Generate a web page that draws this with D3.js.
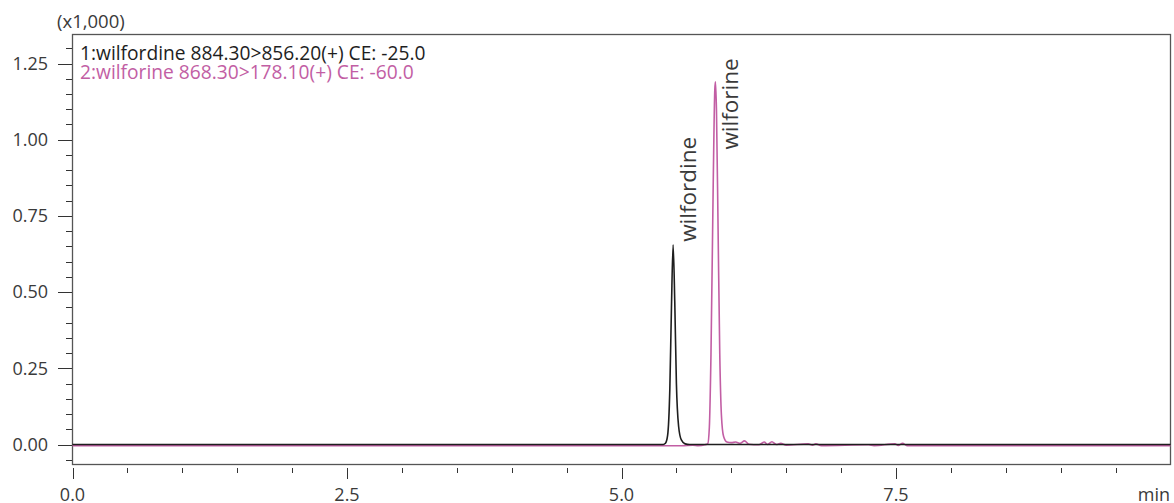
<!DOCTYPE html>
<html>
<head>
<meta charset="utf-8">
<script src="https://cdn.jsdelivr.net/npm/d3@7"></script>
<style>
  body { margin: 0; background: #fff; }
  text { font-family: "Open Sans", "Noto Sans", sans-serif; fill: #3a3a3a; }
</style>
</head>
<body>
<div id="chart"></div>
<script>
// retention time (min) / intensity (x1,000)
var wilfordineTime  = [0, 2.5, 5.0, 5.38, 5.40, 5.42, 5.44, 5.455, 5.47, 5.485, 5.50, 5.52, 5.545, 5.58, 5.62, 7.5, 10];
var wilfordineValue = [0, 0,   0,   0,    0.004, 0.03, 0.18, 0.45, 0.655, 0.47, 0.20, 0.06, 0.015, 0.002, 0, 0, 0];

var wilforineTime  = [0, 2.5, 5.0, 5.55, 5.65, 5.70, 5.76, 5.785, 5.80, 5.815, 5.835, 5.85, 5.856, 5.865, 5.88, 5.895, 5.91, 5.93, 5.96,
                      6.00, 6.04, 6.08, 6.12, 6.16, 6.25, 6.30, 6.33, 6.37, 6.41, 6.45, 6.50, 6.70, 6.74, 6.77, 6.82, 7.25, 7.30,
                      7.49, 7.52, 7.56, 7.60, 8.5, 10];
var wilforineValue = [0, 0,   0,   0,    0.002, 0.0, 0.003, 0.006, 0.06, 0.30, 0.85, 1.17, 1.194, 1.10, 0.70, 0.30, 0.10, 0.03, 0.012,
                      0.01, 0.012, 0.008, 0.016, 0.005, 0.003, 0.012, 0.004, 0.013, 0.004, 0.008, 0.002, 0.006, 0.002, 0.006, 0.0, 0.003, 0.0,
                      0.006, 0.001, 0.008, 0.0, 0.0, 0];

var legendText = ["1:wilfordine 884.30>856.20(+) CE: -25.0", "2:wilforine 868.30>178.10(+) CE: -60.0"];
var peakNames = ["wilfordine", "wilforine"];
var yTicks = [0, 0.25, 0.5, 0.75, 1.0, 1.25];
var xTicks = [0, 2.5, 5.0, 7.5];

var width = 1174, height = 503;
var margin = {top: 34, right: 3, bottom: 38, left: 72};

var svg = d3.select("#chart").append("svg")
    .attr("width", width)
    .attr("height", height);

var x = d3.scaleLinear().domain([0, 10]).range([margin.left + 0.5, width - margin.right - 0.5]);
var y = d3.scaleLinear().domain([0, 1.25]).range([444.5, 63.5]);

var colors = ["#1e1e1e", "#c25ea4"];

// frame
svg.append("rect")
    .attr("x", margin.left + 0.5)
    .attr("y", margin.top + 0.5)
    .attr("width", width - margin.right - margin.left - 1)
    .attr("height", height - margin.bottom - margin.top - 1)
    .attr("fill", "none")
    .attr("stroke", "#555")
    .attr("stroke-width", 1.3);

// y ticks
var yMinor = d3.range(-0.05, 1.31, 0.05);
svg.append("g").selectAll("line")
    .data(yMinor)
    .enter().append("line")
      .attr("x1", margin.left - 6).attr("x2", margin.left)
      .attr("y1", function(d) { return Math.round(y(d)) + 0.5; })
      .attr("y2", function(d) { return Math.round(y(d)) + 0.5; })
      .attr("stroke", "#333");

svg.append("g").selectAll("line")
    .data(yTicks)
    .enter().append("line")
      .attr("x1", margin.left - 14).attr("x2", margin.left)
      .attr("y1", function(d) { return Math.round(y(d)) + 0.5; })
      .attr("y2", function(d) { return Math.round(y(d)) + 0.5; })
      .attr("stroke", "#333");

svg.append("g").selectAll("text")
    .data(yTicks)
    .enter().append("text")
      .attr("x", 48)
      .attr("y", function(d) { return y(d); })
      .attr("dy", "0.35em")
      .attr("text-anchor", "end")
      .style("font-size", "18px")
      .text(d3.format(".2f"));

svg.append("text")
    .attr("x", 57).attr("y", 22)
    .attr("dy", "0.35em")
    .style("font-size", "18.5px")
    .text("(x1,000)");

// x ticks, drawn just under the axis line
var axisY = height - margin.bottom;
var xMinor = d3.range(0, 10, 0.5);
svg.append("g").selectAll("line")
    .data(xMinor)
    .enter().append("line")
      .attr("x1", function(d) { return Math.round(x(d)) + 0.5; })
      .attr("x2", function(d) { return Math.round(x(d)) + 0.5; })
      .attr("y1", axisY + 3).attr("y2", axisY + 8)
      .attr("stroke", "#333");

svg.append("g").selectAll("line")
    .data(xTicks)
    .enter().append("line")
      .attr("x1", function(d) { return Math.round(x(d)) + 0.5; })
      .attr("x2", function(d) { return Math.round(x(d)) + 0.5; })
      .attr("y1", axisY + 3).attr("y2", axisY + 14)
      .attr("stroke", "#333");

svg.append("g").selectAll("text")
    .data(xTicks)
    .enter().append("text")
      .attr("x", function(d) { return x(d); })
      .attr("y", 500.5)
      .attr("text-anchor", "middle")
      .style("font-size", "18px")
      .text(d3.format(".1f"));

svg.append("text")
    .attr("x", 1170).attr("y", 500.5)
    .attr("text-anchor", "end")
    .style("font-size", "18px")
    .text("min");

// traces
var line = d3.line()
    .x(function(d) { return x(d[0]); })
    .y(function(d) { return y(d[1]); })
    .curve(d3.curveMonotoneX);

var series = [
  d3.zip(wilforineTime, wilforineValue).map(function(d) { return [d[0], d[1] - 0.004]; }),
  d3.zip(wilfordineTime, wilfordineValue)
];
var seriesColor = [colors[1], colors[0]];

svg.append("g").selectAll("path")
    .data(series)
    .enter().append("path")
      .attr("d", line)
      .attr("fill", "none")
      .attr("stroke", function(d, i) { return seriesColor[i]; })
      .attr("stroke-width", 1.6);

// legend
svg.append("g").selectAll("text")
    .data(legendText)
    .enter().append("text")
      .attr("x", 80)
      .attr("y", function(d, i) { return 53 + i * 19; })
      .attr("dy", "0.35em")
      .style("font-size", "19.2px")
      .style("fill", function(d, i) { return colors[i]; })
      .text(function(d) { return d; });

// peak labels, set beside each apex
var peakTime = [
  wilfordineTime[wilfordineValue.indexOf(d3.max(wilfordineValue))],
  wilforineTime[wilforineValue.indexOf(d3.max(wilforineValue))]
];
var peakTop = [d3.max(wilfordineValue), d3.max(wilforineValue)];

svg.append("g").selectAll("text")
    .data(peakNames)
    .enter().append("text")
      .attr("transform", function(d, i) {
        return "translate(" + (x(peakTime[i]) + 23) + "," + (y(peakTop[i]) + (i ? 69 : -3)) + ")rotate(-90)";
      })
      .style("font-size", "22.5px")
      .text(function(d) { return d; });
</script>
</body>
</html>
